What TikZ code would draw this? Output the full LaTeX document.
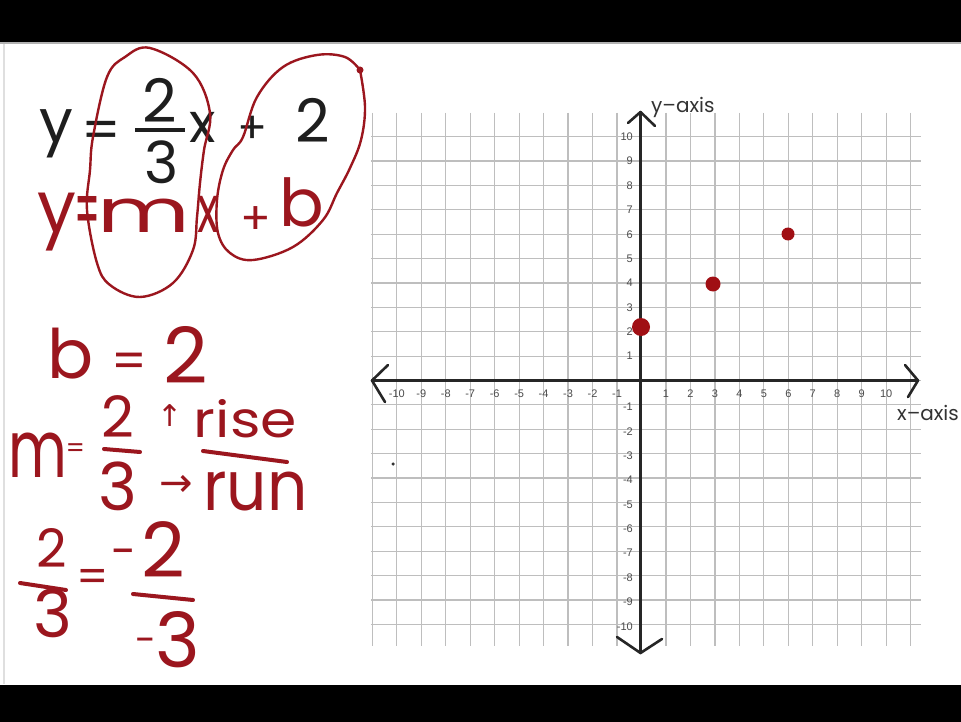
\documentclass[tikz,border=0pt]{standalone}
\usepackage{fontspec}
\usepackage{graphicx}
\setmainfont{Poppins}
\newfontfamily\tickfont{Liberation Sans}
\newfontfamily\arrowfont{DejaVu Sans}
\newcommand\myfs[1]{\fontsize{#1}{#1}\selectfont}
\newcommand\gl[2]{\rlap{\hskip#1pt\makebox[0pt]{#2}}}
\definecolor{ink}{RGB}{155,22,30}
\definecolor{dotred}{RGB}{160,15,20}
\definecolor{typed}{RGB}{30,30,30}
\definecolor{gridc}{RGB}{190,190,190}
\begin{document}
\begin{tikzpicture}[x=1pt,y=-1pt,
  txt/.style={inner sep=0pt,outer sep=0pt,anchor=base},
  hand/.style={txt,text=ink},
  typ/.style={txt,text=typed},
  tick/.style={inner sep=0pt,text=black!70,font=\tickfont\myfs{11}},
  axlabel/.style={inner sep=0pt,anchor=base west,text=black!80,font=\myfs{20}},
  loopline/.style={draw=ink,line width=2.4pt,line cap=round,line join=round},
  inkstroke/.style={draw=ink,line width=4pt,line cap=round},
  axisline/.style={draw=black!85,line width=2.6pt,line cap=round,line join=round},
  gridline/.style={draw=gridc,line width=1.2pt},
  plotdot/.style={circle,fill=dotred,draw=none,inner sep=0pt}
]
\useasboundingbox (0,0) rectangle (961,722);
\fill[white] (0,0) rectangle (961,722);
\fill[black] (0,0) rectangle (961,42);
\fill[black] (0,685) rectangle (961,722);
\draw[gray!60,line width=1.5pt] (0,43) -- (961,43);
\draw[gray!25,line width=1.5pt] (4,44) -- (4,684);

% grid
\foreach \k in {-11,...,11}
  \draw[gridline] ({641.5+24.47*\k},113) -- ({641.5+24.47*\k},646);
\foreach \k in {-10,...,10}
  \draw[gridline] (371,{380.5-24.38*\k}) -- (921,{380.5-24.38*\k});

% axes
\coordinate (xl) at (372,380.5);
\coordinate (xr) at (918,380.5);
\coordinate (yt) at (640.5,112);
\coordinate (yb) at (640.5,653);
\draw[axisline] (xl) -- (xr);
\draw[axisline] (yt) -- (yb);
\draw[axisline] (388,365) -- (xl) -- (385,402);
\draw[axisline] (905,365) -- (xr) -- (908,397);
\draw[axisline] (628,123) -- (yt) -- (655,126);
\draw[axisline] (617,637) -- (yb) -- (662,639);

% tick labels
\foreach \k in {1,...,10}{
  \node[tick] (xp\k) at ({641.5+24.47*\k},394) {\k};
  \node[tick] (xn\k) at ({641.5-24.47*\k},394) {-\k};
  \node[tick,anchor=east] (yp\k) at (633,{380.5-24.38*\k}) {\k};
  \node[tick,anchor=east] (yn\k) at (633,{382.5+24.38*\k}) {-\k};
}
\node[axlabel] (ylab) at (651,113) {y–axis};
\node[axlabel] (xlab) at (897,420) {x–axis};

% points
\node[plotdot,minimum size=18pt] (p1) at (641,327) {};
\node[plotdot,minimum size=15pt] (p2) at (713,284) {};
\node[plotdot,minimum size=13pt] (p3) at (788,234) {};
\node[circle,fill=black!80,inner sep=0pt,minimum size=3.5pt] (stray) at (393,464) {};

% typed equation
\node[typ,font=\myfs{60}] (ty) at (56,143) {y};
\node[typ,font=\myfs{55}] (teq) at (101,150) {=};
\node[typ,font=\myfs{60}] (tn) at (160,123) {2};
\node[typ,font=\myfs{58}] (td) at (162,184) {3};
\draw[typed,line width=3.5pt] (135,130) -- (185,130);
\node[typ,font=\myfs{55}] (tx) at (203,143) {x};
\node[typ,font=\myfs{44}] (tp) at (253,144) {+};
\node[typ,font=\myfs{60}] (t2) at (313,143) {2};

% loops
\draw[loopline] plot[smooth cycle,tension=0.6] coordinates {
  (150,48) (193,73) (210,113) (204,150) (200,183) (197,217) (193,250)
  (173,283) (140,297) (110,285) (97,263) (87,210) (90,170) (93,137)
  (107,77) (125,57)};
\draw[loopline] plot[smooth,tension=0.6] coordinates {
  (360,70) (365,107) (361,140) (350,168) (337,193) (323,220) (293,247)
  (253,260) (230,253) (218,233) (217,200) (223,170) (233,150) (243,137)
  (257,97) (283,67) (317,55) (345,57) (360,70)};
\fill[ink] (360,70) circle[radius=3.5pt];

% handwriting
\node[hand,anchor=base west] (h1) at (37,233) {\myfs{60}%
  \gl{19}{\scalebox{1.15}[1.2]{y}}%
  \gl{50}{\raisebox{-6pt}{\scalebox{0.6}[1.4]{=}}}%
  \gl{106}{\scalebox{1.5}[1]{m}}%
  \gl{171}{\scalebox{0.75}[1.1]{x}}%
  \gl{218}{\raisebox{-2pt}{\scalebox{0.75}{+}}}%
  \gl{264}{\raisebox{6pt}{\scalebox{1.1}[1.1]{b}}}};
\node[hand,anchor=base west] (h2) at (48,378) {\myfs{62}%
  \gl{22}{\scalebox{1.1}[1.1]{b}}%
  \gl{81}{\scalebox{0.8}[0.8]{=}}%
  \gl{137}{\raisebox{-5pt}{\scalebox{1.25}[1.25]{2}}}};
\node[hand,anchor=base west] (h3) at (13,477) {\myfs{60}%
  \gl{24}{\scalebox{0.95}[1.33]{m}}%
  \gl{62}{\raisebox{20pt}{\scalebox{0.45}{=}}}};
\node[hand,font=\myfs{57}] (h3n) at (118,437) {2};
\node[hand,font=\myfs{66}] (h3d) at (118,510) {3};
\draw[inkstroke] (104,449) -- (140,452);
\node[hand,anchor=base west] (h3r) at (160,437) {\myfs{50}%
  \gl{10}{\raisebox{11pt}{\arrowfont\myfs{30}↑}}%
  \gl{85}{\scalebox{1.17}[1]{rise}}};
\draw[inkstroke] (203,451) -- (287,462);
\node[hand,anchor=base west] (h3u) at (157,510) {\myfs{60}%
  \gl{19}{\raisebox{14pt}{\arrowfont\myfs{40}→}}%
  \gl{98}{\scalebox{1.05}[1.15]{run}}};
\node[hand,font=\myfs{53}] (h4n) at (52,567) {2};
\draw[inkstroke] (20,583) -- (66,590);
\node[hand,font=\myfs{66}] (h4d) at (53,637) {3};
\node[hand,font=\myfs{45}] (h4e) at (93,592) {=};
\node[hand,anchor=base west] (h4rn) at (120,577) {\myfs{76}%
  \gl{4}{\raisebox{10pt}{\scalebox{0.6}{-}}}%
  \gl{43}{2}};
\draw[inkstroke] (133,594) -- (193,600);
\node[hand,anchor=base west] (h4rd) at (140,667) {\myfs{76}%
  \gl{5}{\raisebox{14pt}{\scalebox{0.5}{-}}}%
  \gl{37}{3}};
\end{tikzpicture}
\end{document}
